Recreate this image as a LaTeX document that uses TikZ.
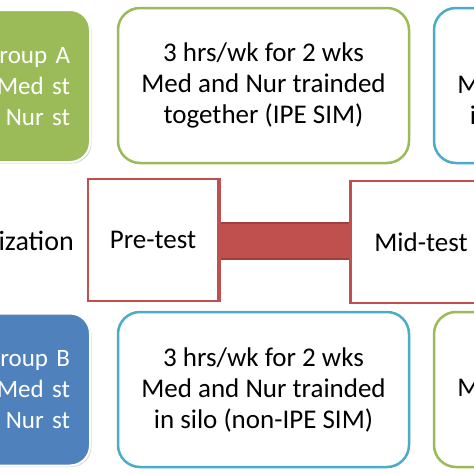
\documentclass[tikz,border=0pt]{standalone}
\usepackage{fontspec}
\setmainfont{Carlito}
\usetikzlibrary{shadows}
\definecolor{ogreen}{HTML}{9BBB59}
\definecolor{oblue}{HTML}{4F81BD}
\definecolor{oaqua}{HTML}{4BACC6}
\definecolor{ored}{HTML}{C0504D}
\definecolor{odred}{HTML}{A0403D}
\tikzset{
  grpbox/.style={rounded corners=20pt, draw=white, line width=2pt, text=white,
    minimum width=140pt, minimum height=152pt, inner xsep=20pt, text width=100pt, align=right,
    font=\fontsize{25}{31}\selectfont,
    drop shadow={opacity=0.3, shadow xshift=1.5pt, shadow yshift=-1.5pt}},
  armbox/.style={rounded corners=22pt, fill=white, line width=2.5pt,
    minimum width=291pt, minimum height=155pt, align=center,
    font=\fontsize{27}{31}\selectfont},
  testbox/.style={draw=ored, fill=white, line width=2.5pt, align=center,
    font=\fontsize{27}{31}\selectfont},
  lbl/.style={font=\fontsize{28}{31}\selectfont, inner sep=0pt}
}
\begin{document}
\begin{tikzpicture}[x=1pt,y=-1pt]
\useasboundingbox (0,0) rectangle (474,474);
\begin{scope}
\clip (0,0) rectangle (474,474);
\fill[white] (0,0) rectangle (474,474);
% top row
\node[grpbox, fill=ogreen] (ga) at (20,86) {Group A\\Med st\\Nur st};
\node[armbox, draw=ogreen] (a1) at (263.5,85.5) {3 hrs/wk for 2 wks\\Med and Nur trainded\\together (IPE SIM)};
\node[armbox, draw=oaqua] (a2) at (579.5,85.5) {3 hrs/wk for 2 wks\\Med and Nur trainded\\in silo (non-IPE SIM)};
% middle row
\node[lbl, anchor=base east] (rand) at (74,250) {Randomization};
\node[testbox, minimum width=130pt, minimum height=122pt] (pre) at (153,240) {Pre-test};
\node[testbox, minimum width=140pt, minimum height=122pt] (mid) at (421,242) {Mid-test};
\draw[fill=ored, draw=odred, line width=1.5pt] (pre.east |- 0,223) rectangle (mid.west |- 0,259);
\draw[ored, line width=2.5pt] (pre.north east) -- (pre.south east);
\draw[ored, line width=2.5pt] (mid.north west) -- (mid.south west);
% bottom row
\node[grpbox, fill=oblue] (gb) at (20,389.5) {Group B\\Med st\\Nur st};
\node[armbox, draw=oaqua] (b1) at (263.5,389.5) {3 hrs/wk for 2 wks\\Med and Nur trainded\\in silo (non-IPE SIM)};
\node[armbox, draw=ogreen] (b2) at (579.5,389.5) {3 hrs/wk for 2 wks\\Med and Nur trainded\\together (IPE SIM)};
\end{scope}
\end{tikzpicture}
\end{document}
